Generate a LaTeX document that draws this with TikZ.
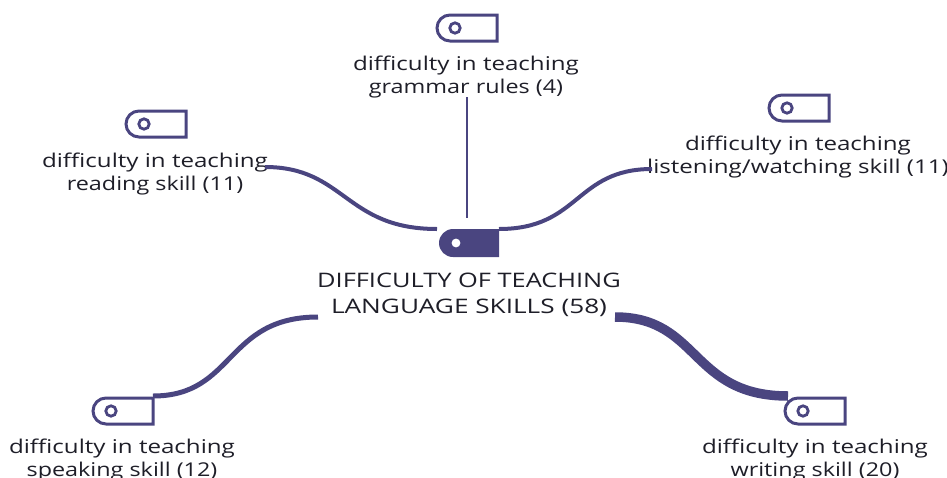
\documentclass[tikz,border=0pt]{standalone}
\usepackage{fontspec}
\setmainfont{Open Sans}[FakeStretch=1.27]
\newfontfamily\narrowface{Open Sans}[FakeStretch=1.23]
\newfontfamily\wideface{Open Sans}[FakeStretch=1.31]
\definecolor{ink}{HTML}{4A4580}
\definecolor{txt}{HTML}{1E1E28}
\tikzset{
  x=1pt,y=-1pt,
  tagicon/.pic={
    \draw[ink,line width=3pt,line join=miter] (30,-13) -- (-17,-13) arc[start angle=90,end angle=270,x radius=13,y radius=-13] -- (30,13) -- cycle;
    \draw[ink,line width=2.8pt] (-12,0) circle[radius=5.2];
  },
  tagfilled/.pic={
    \fill[ink] (30,-14) -- (-16,-14) arc[start angle=90,end angle=270,x radius=14,y radius=-14] -- (30,14) -- cycle;
    \fill[white] (-13,0) circle[radius=4.4];
  },
  lbl/.style={text=txt,font=\fontsize{19}{23}\selectfont,align=center,inner sep=0pt},
  mainlbl/.style={text=txt,font=\fontsize{20}{26}\selectfont,align=center,inner sep=0pt},
  link/.style={ink,line cap=butt},
}
\begin{document}
\begin{tikzpicture}
\useasboundingbox (0,0) rectangle (947,477);
\pic at (467,28) {tagicon};
\pic at (799,108) {tagicon};
\pic at (156,124) {tagicon};
\pic at (123,411) {tagicon};
\pic at (815,411) {tagicon};
\pic at (469,243) {tagfilled};
\node[lbl] (g) at (466,77) {difficulty in teaching\\{\narrowface grammar rules (4)}};
\node[lbl] (l) at (798,157) {difficulty in teaching\\listening/watching skill (11)};
\node[lbl] (r) at (155,174) {difficulty in teaching\\{\narrowface reading skill (11)}};
\node[lbl] (s) at (122,460) {difficulty in teaching\\{\narrowface speaking skill (12)}};
\node[lbl] (w) at (815,460) {difficulty in teaching\\{\narrowface writing skill (20)}};
\node[mainlbl] (m) at (469,295) {DIFFICULTY OF TEACHING\\{\wideface LANGUAGE SKILLS (58)}};
\coordinate (ctop) at (467,218);
\coordinate (cl) at (437,229);
\coordinate (cr) at (499,229);
\coordinate (gb) at (467,97);
\coordinate (rb) at (265,167);
\coordinate (lb) at (652,169);
\coordinate (sb) at (153,396);
\coordinate (st) at (318,317);
\coordinate (wt) at (615,317);
\coordinate (wb) at (788,396);
\draw[link,line width=1.8pt] (gb) -- (ctop);
\draw[link,line width=4pt] (rb) .. controls (345,167) and (345,229) .. (cl);
\draw[link,line width=4pt] (lb) .. controls (575,169) and (580,229) .. (cr);
\draw[link,line width=5pt] (sb) .. controls (235,396) and (225,317) .. (st);
\draw[link,line width=9.5pt] (wt) .. controls (700,317) and (690,396) .. (wb);
\end{tikzpicture}
\end{document}
